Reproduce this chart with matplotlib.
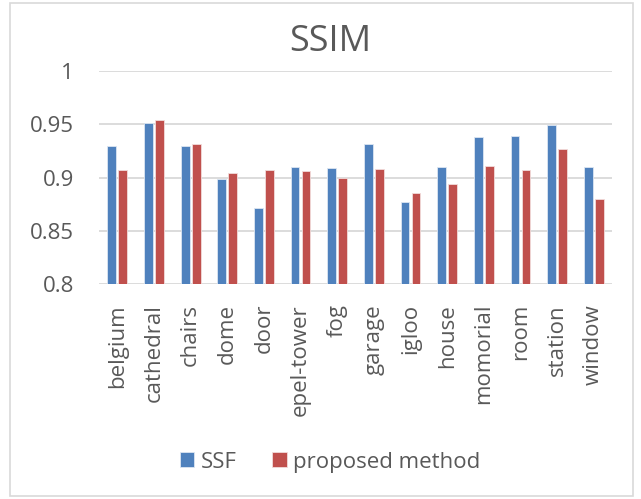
import matplotlib
matplotlib.use("Agg")
import matplotlib.pyplot as plt
import numpy as np
from matplotlib.patches import Rectangle

# data
categories = ["belgium", "cathedral", "chairs", "dome", "door", "epel-tower", "fog",
              "garage", "igloo", "house", "momorial", "room", "station", "window"]
ssf = [0.930, 0.951, 0.930, 0.899, 0.872, 0.910, 0.909,
       0.932, 0.877, 0.910, 0.938, 0.939, 0.949, 0.910]
proposed = [0.907, 0.954, 0.932, 0.904, 0.907, 0.906, 0.900,
            0.908, 0.886, 0.894, 0.911, 0.907, 0.927, 0.880]
yticks = [0.8, 0.85, 0.9, 0.95, 1]
ytick_labels = ["0.8", "0.85", "0.9", "0.95", "1"]

BLUE = "#4F81BD"
RED = "#C0504D"
TEXT = "#595959"
GRID = "#D9D9D9"

plt.rcParams["font.family"] = ["Open Sans", "DejaVu Sans"]

fig = plt.figure(figsize=(6.41, 4.99), dpi=100)
fig.patches.append(Rectangle((0.015, 0.006), 0.972, 0.988, transform=fig.transFigure,
                             fill=False, edgecolor=GRID, linewidth=1.2))

ax = fig.add_axes([0.1545, 0.4299, 0.8003, 0.4278])
x = np.arange(len(categories))
w = 0.24
ax.bar(x - w / 2 - 0.03, ssf, width=w, color=BLUE, edgecolor="#DCE6F2", linewidth=0.6,
       label="SSF", zorder=3)
ax.bar(x + w / 2 + 0.03, proposed, width=w, color=RED, edgecolor="#F2DCDB", linewidth=0.6,
       label="proposed method", zorder=3)

ax.set_ylim(0.8, 1)
ax.set_xlim(-0.5, len(categories) - 0.5)
ax.set_yticks(yticks)
ax.set_yticklabels(ytick_labels)
ax.set_xticks(x)
ax.set_xticklabels(categories, rotation=90)
ax.tick_params(axis="both", length=0, colors=TEXT, labelsize=16)
ax.tick_params(axis="y", pad=18)
ax.tick_params(axis="x", pad=14)
ax.yaxis.grid(True, color=GRID, linewidth=1.3, zorder=0)
for s in ax.spines.values():
    s.set_visible(False)

fig.text(0.515, 0.915, "SSIM", ha="center", va="center", fontsize=26, color=TEXT)

fig.legend(loc="center", bbox_to_anchor=(0.515, 0.074), ncol=2, frameon=False,
           fontsize=16, labelcolor=TEXT, handlelength=0.65, handleheight=0.65,
           handletextpad=0.3, columnspacing=1.6)

fig.savefig("out.png", dpi=100)
